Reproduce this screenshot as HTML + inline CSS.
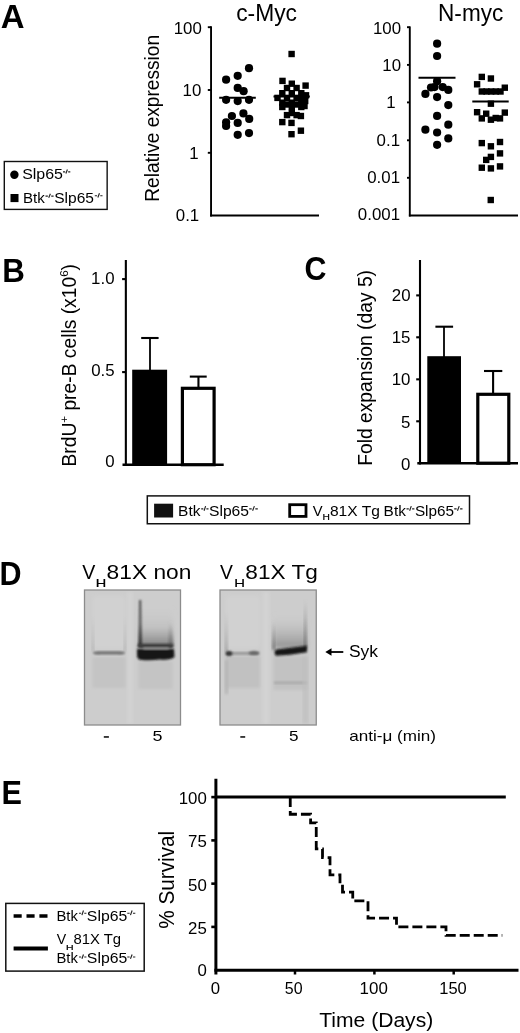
<!DOCTYPE html>
<html><head><meta charset="utf-8"><style>
html,body{margin:0;padding:0;background:#fff;width:520px;height:1033px;overflow:hidden}
svg{display:block;will-change:transform;font-family:"Liberation Sans", sans-serif;}
</style></head><body>
<svg width="520" height="1033" viewBox="0 0 520 1033" font-family='"Liberation Sans", sans-serif' fill="#000">
<text x="0.78" y="27.70" font-size="32.56" font-weight="bold" textLength="23.79" lengthAdjust="spacingAndGlyphs" >A</text>
<text x="2.20" y="282.00" font-size="32.99" font-weight="bold" textLength="22.61" lengthAdjust="spacingAndGlyphs" >B</text>
<text x="304.55" y="279.77" font-size="33.19" font-weight="bold" textLength="21.97" lengthAdjust="spacingAndGlyphs" >C</text>
<text x="-0.44" y="584.65" font-size="32.92" font-weight="bold" textLength="22.03" lengthAdjust="spacingAndGlyphs" >D</text>
<text x="1.55" y="803.60" font-size="32.99" font-weight="bold" textLength="20.45" lengthAdjust="spacingAndGlyphs" >E</text>
<text x="236.14" y="21.20" font-size="23.11" font-weight="normal" textLength="60.85" lengthAdjust="spacingAndGlyphs" >c-Myc</text>
<text x="438.05" y="21.30" font-size="23.26" font-weight="normal" textLength="65.24" lengthAdjust="spacingAndGlyphs" >N-myc</text>
<line x1="211.05" y1="26.2" x2="211.05" y2="216.5" stroke="#000" stroke-width="1.9" />
<line x1="210.1" y1="215.5" x2="319" y2="215.5" stroke="#000" stroke-width="2" />
<line x1="207.8" y1="27.2" x2="211.05" y2="27.2" stroke="#000" stroke-width="1.9" />
<line x1="207.8" y1="90.0" x2="211.05" y2="90.0" stroke="#000" stroke-width="1.9" />
<line x1="207.8" y1="152.8" x2="211.05" y2="152.8" stroke="#000" stroke-width="1.9" />
<text x="173.75" y="34.02" font-size="16.2" textLength="28.11" lengthAdjust="spacingAndGlyphs">100</text>
<text x="182.62" y="96.32" font-size="16.2" textLength="18.74" lengthAdjust="spacingAndGlyphs">10</text>
<text x="189.26" y="158.67" font-size="16.2" textLength="9.37" lengthAdjust="spacingAndGlyphs">1</text>
<text x="175.81" y="220.92" font-size="16.2" textLength="23.42" lengthAdjust="spacingAndGlyphs">0.1</text>
<line x1="409.8" y1="26.4" x2="409.8" y2="216.5" stroke="#000" stroke-width="1.9" />
<line x1="408.9" y1="215.5" x2="518" y2="215.5" stroke="#000" stroke-width="2" />
<line x1="407.0" y1="27.2" x2="409.8" y2="27.2" stroke="#000" stroke-width="1.9" />
<line x1="407.0" y1="64.9" x2="409.8" y2="64.9" stroke="#000" stroke-width="1.9" />
<line x1="407.0" y1="102.4" x2="409.8" y2="102.4" stroke="#000" stroke-width="1.9" />
<line x1="407.0" y1="140.3" x2="409.8" y2="140.3" stroke="#000" stroke-width="1.9" />
<line x1="407.0" y1="177.8" x2="409.8" y2="177.8" stroke="#000" stroke-width="1.9" />
<text x="372.95" y="34.22" font-size="16.2" textLength="28.11" lengthAdjust="spacingAndGlyphs">100</text>
<text x="382.32" y="71.32" font-size="16.2" textLength="18.74" lengthAdjust="spacingAndGlyphs">10</text>
<text x="386.26" y="108.42" font-size="16.2" textLength="9.37" lengthAdjust="spacingAndGlyphs">1</text>
<text x="376.61" y="145.97" font-size="16.2" textLength="23.42" lengthAdjust="spacingAndGlyphs">0.1</text>
<text x="367.24" y="183.02" font-size="16.2" textLength="32.79" lengthAdjust="spacingAndGlyphs">0.01</text>
<text x="357.87" y="220.07" font-size="16.2" textLength="42.16" lengthAdjust="spacingAndGlyphs">0.001</text>
<text x="-1.57" y="0" font-size="20.64" textLength="166.92" lengthAdjust="spacingAndGlyphs" transform="translate(158.50,200.20) rotate(-90)">Relative expression</text>
<circle cx="249.0" cy="68.2" r="4.1" fill="#000"/>
<circle cx="237.7" cy="75.8" r="4.1" fill="#000"/>
<circle cx="226.1" cy="79.7" r="4.1" fill="#000"/>
<circle cx="237.7" cy="87.9" r="4.1" fill="#000"/>
<circle cx="243.6" cy="91.2" r="4.1" fill="#000"/>
<circle cx="226.1" cy="99.8" r="4.1" fill="#000"/>
<circle cx="237.7" cy="101.1" r="4.1" fill="#000"/>
<circle cx="249.0" cy="99.8" r="4.1" fill="#000"/>
<circle cx="231.9" cy="116.0" r="4.1" fill="#000"/>
<circle cx="243.4" cy="113.4" r="4.1" fill="#000"/>
<circle cx="249.2" cy="118.9" r="4.1" fill="#000"/>
<circle cx="226.1" cy="122.3" r="4.1" fill="#000"/>
<circle cx="226.1" cy="126.0" r="4.1" fill="#000"/>
<circle cx="237.7" cy="122.9" r="4.1" fill="#000"/>
<circle cx="237.7" cy="134.8" r="4.1" fill="#000"/>
<circle cx="249.0" cy="133.1" r="4.1" fill="#000"/>
<rect x="288.4" y="50.8" width="6.4" height="6.4" fill="#000" stroke="none" stroke-width="0" />
<rect x="279.3" y="77.7" width="6.4" height="6.4" fill="#000" stroke="none" stroke-width="0" />
<rect x="288.6" y="80.5" width="6.4" height="6.4" fill="#000" stroke="none" stroke-width="0" />
<rect x="302.4" y="82.4" width="6.4" height="6.4" fill="#000" stroke="none" stroke-width="0" />
<rect x="283.8" y="84.8" width="6.4" height="6.4" fill="#000" stroke="none" stroke-width="0" />
<rect x="293.4" y="84.8" width="6.4" height="6.4" fill="#000" stroke="none" stroke-width="0" />
<rect x="279.1" y="90.0" width="6.4" height="6.4" fill="#000" stroke="none" stroke-width="0" />
<rect x="288.6" y="90.0" width="6.4" height="6.4" fill="#000" stroke="none" stroke-width="0" />
<rect x="298.1" y="90.0" width="6.4" height="6.4" fill="#000" stroke="none" stroke-width="0" />
<rect x="302.8" y="92.1" width="6.4" height="6.4" fill="#000" stroke="none" stroke-width="0" />
<rect x="274.3" y="94.7" width="6.4" height="6.4" fill="#000" stroke="none" stroke-width="0" />
<rect x="283.8" y="94.7" width="6.4" height="6.4" fill="#000" stroke="none" stroke-width="0" />
<rect x="293.4" y="94.7" width="6.4" height="6.4" fill="#000" stroke="none" stroke-width="0" />
<rect x="279.1" y="99.5" width="6.4" height="6.4" fill="#000" stroke="none" stroke-width="0" />
<rect x="288.6" y="99.5" width="6.4" height="6.4" fill="#000" stroke="none" stroke-width="0" />
<rect x="298.1" y="99.5" width="6.4" height="6.4" fill="#000" stroke="none" stroke-width="0" />
<rect x="279.1" y="103.8" width="6.4" height="6.4" fill="#000" stroke="none" stroke-width="0" />
<rect x="288.6" y="103.8" width="6.4" height="6.4" fill="#000" stroke="none" stroke-width="0" />
<rect x="298.1" y="103.8" width="6.4" height="6.4" fill="#000" stroke="none" stroke-width="0" />
<rect x="283.8" y="111.9" width="6.4" height="6.4" fill="#000" stroke="none" stroke-width="0" />
<rect x="288.6" y="109.8" width="6.4" height="6.4" fill="#000" stroke="none" stroke-width="0" />
<rect x="293.4" y="111.9" width="6.4" height="6.4" fill="#000" stroke="none" stroke-width="0" />
<rect x="297.7" y="112.8" width="6.4" height="6.4" fill="#000" stroke="none" stroke-width="0" />
<rect x="279.1" y="118.9" width="6.4" height="6.4" fill="#000" stroke="none" stroke-width="0" />
<rect x="288.3" y="119.7" width="6.4" height="6.4" fill="#000" stroke="none" stroke-width="0" />
<rect x="297.7" y="127.5" width="6.4" height="6.4" fill="#000" stroke="none" stroke-width="0" />
<rect x="288.3" y="131.0" width="6.4" height="6.4" fill="#000" stroke="none" stroke-width="0" />
<rect x="283.8" y="101.3" width="6.4" height="6.4" fill="#000" stroke="none" stroke-width="0" />
<rect x="293.4" y="101.3" width="6.4" height="6.4" fill="#000" stroke="none" stroke-width="0" />
<rect x="302.0" y="97.8" width="6.4" height="6.4" fill="#000" stroke="none" stroke-width="0" />
<rect x="301.3" y="102.8" width="6.4" height="6.4" fill="#000" stroke="none" stroke-width="0" />
<rect x="298.1" y="94.7" width="6.4" height="6.4" fill="#000" stroke="none" stroke-width="0" />
<line x1="219.2" y1="97.8" x2="255.8" y2="97.8" stroke="#000" stroke-width="2" />
<line x1="273.5" y1="96.4" x2="309.8" y2="96.4" stroke="#000" stroke-width="2" />
<circle cx="437.1" cy="43.65" r="4.1" fill="#000"/>
<circle cx="437.1" cy="56.0" r="4.1" fill="#000"/>
<circle cx="437.1" cy="81.2" r="4.1" fill="#000"/>
<circle cx="431.0" cy="87.5" r="4.1" fill="#000"/>
<circle cx="434.5" cy="87.1" r="4.1" fill="#000"/>
<circle cx="442.7" cy="87.1" r="4.1" fill="#000"/>
<circle cx="448.3" cy="89.9" r="4.1" fill="#000"/>
<circle cx="425.4" cy="93.9" r="4.1" fill="#000"/>
<circle cx="437.1" cy="97.1" r="4.1" fill="#000"/>
<circle cx="448.3" cy="105.1" r="4.1" fill="#000"/>
<circle cx="437.1" cy="115.9" r="4.1" fill="#000"/>
<circle cx="448.3" cy="124.7" r="4.1" fill="#000"/>
<circle cx="425.4" cy="129.7" r="4.1" fill="#000"/>
<circle cx="437.1" cy="132.5" r="4.1" fill="#000"/>
<circle cx="448.3" cy="138.4" r="4.1" fill="#000"/>
<circle cx="437.1" cy="144.8" r="4.1" fill="#000"/>
<rect x="478.6" y="73.7" width="6.4" height="6.4" fill="#000" stroke="none" stroke-width="0" />
<rect x="487.7" y="75.3" width="6.4" height="6.4" fill="#000" stroke="none" stroke-width="0" />
<rect x="473.9" y="81.1" width="6.4" height="6.4" fill="#000" stroke="none" stroke-width="0" />
<rect x="501.6" y="84.5" width="6.4" height="6.4" fill="#000" stroke="none" stroke-width="0" />
<rect x="478.6" y="88.3" width="6.4" height="6.4" fill="#000" stroke="none" stroke-width="0" />
<rect x="483.3" y="88.3" width="6.4" height="6.4" fill="#000" stroke="none" stroke-width="0" />
<rect x="488.0" y="88.3" width="6.4" height="6.4" fill="#000" stroke="none" stroke-width="0" />
<rect x="492.6" y="88.3" width="6.4" height="6.4" fill="#000" stroke="none" stroke-width="0" />
<rect x="497.3" y="88.3" width="6.4" height="6.4" fill="#000" stroke="none" stroke-width="0" />
<rect x="487.7" y="100.5" width="6.4" height="6.4" fill="#000" stroke="none" stroke-width="0" />
<rect x="473.9" y="109.0" width="6.4" height="6.4" fill="#000" stroke="none" stroke-width="0" />
<rect x="483.0" y="110.5" width="6.4" height="6.4" fill="#000" stroke="none" stroke-width="0" />
<rect x="501.6" y="109.4" width="6.4" height="6.4" fill="#000" stroke="none" stroke-width="0" />
<rect x="478.6" y="115.2" width="6.4" height="6.4" fill="#000" stroke="none" stroke-width="0" />
<rect x="487.7" y="116.5" width="6.4" height="6.4" fill="#000" stroke="none" stroke-width="0" />
<rect x="492.5" y="114.8" width="6.4" height="6.4" fill="#000" stroke="none" stroke-width="0" />
<rect x="496.8" y="115.2" width="6.4" height="6.4" fill="#000" stroke="none" stroke-width="0" />
<rect x="478.6" y="139.9" width="6.4" height="6.4" fill="#000" stroke="none" stroke-width="0" />
<rect x="487.7" y="143.1" width="6.4" height="6.4" fill="#000" stroke="none" stroke-width="0" />
<rect x="496.8" y="138.8" width="6.4" height="6.4" fill="#000" stroke="none" stroke-width="0" />
<rect x="496.8" y="150.2" width="6.4" height="6.4" fill="#000" stroke="none" stroke-width="0" />
<rect x="487.7" y="153.7" width="6.4" height="6.4" fill="#000" stroke="none" stroke-width="0" />
<rect x="483.0" y="156.7" width="6.4" height="6.4" fill="#000" stroke="none" stroke-width="0" />
<rect x="478.6" y="164.5" width="6.4" height="6.4" fill="#000" stroke="none" stroke-width="0" />
<rect x="487.7" y="165.2" width="6.4" height="6.4" fill="#000" stroke="none" stroke-width="0" />
<rect x="496.8" y="163.2" width="6.4" height="6.4" fill="#000" stroke="none" stroke-width="0" />
<rect x="487.55" y="196.8" width="6.4" height="6.4" fill="#000" stroke="none" stroke-width="0" />
<line x1="418.5" y1="77.8" x2="455.5" y2="77.8" stroke="#000" stroke-width="2" />
<line x1="472.3" y1="101.6" x2="508.7" y2="101.6" stroke="#000" stroke-width="2" />
<rect x="4.3" y="161.5" width="102.85" height="47.9" fill="#fff" stroke="#111" stroke-width="1.4" />
<circle cx="14.4" cy="174.8" r="4.2" fill="#000"/>
<rect x="10.5" y="194" width="8" height="8.1" fill="#000" stroke="none" stroke-width="0" />
<text x="22.17" y="178.83" font-size="14.26" font-weight="normal" textLength="40.81" lengthAdjust="spacingAndGlyphs" >Slp65</text>
<path d="M63.00,171.87 H65.11 M67.42,169.50 L65.88,173.50 M68.19,171.87 H70.30" stroke="#222" stroke-width="1.15" fill="none"/>
<text x="23.06" y="202.80" font-size="14.21" font-weight="normal" textLength="21.82" lengthAdjust="spacingAndGlyphs" >Btk</text>
<path d="M45.50,196.11 H47.85 M50.40,193.80 L48.70,197.70 M51.25,196.11 H53.60" stroke="#222" stroke-width="1.15" fill="none"/>
<text x="54.18" y="202.80" font-size="14.21" font-weight="normal" textLength="39.78" lengthAdjust="spacingAndGlyphs" >Slp65</text>
<path d="M94.80,195.74 H97.03 M99.46,193.20 L97.84,197.50 M100.27,195.74 H102.50" stroke="#222" stroke-width="1.15" fill="none"/>
<line x1="125.85" y1="260" x2="125.85" y2="466" stroke="#000" stroke-width="2.1" />
<line x1="122.5" y1="464.7" x2="223.7" y2="464.7" stroke="#000" stroke-width="2.6" />
<line x1="122.1" y1="279.1" x2="125.85" y2="279.1" stroke="#000" stroke-width="2.1" />
<line x1="122.1" y1="372.1" x2="125.85" y2="372.1" stroke="#000" stroke-width="2.1" />
<text x="91.14" y="284.02" font-size="16.2" textLength="23.42" lengthAdjust="spacingAndGlyphs">1.0</text>
<text x="91.19" y="375.87" font-size="16.2" textLength="23.42" lengthAdjust="spacingAndGlyphs">0.5</text>
<text x="105.19" y="467.27" font-size="16.2" textLength="9.37" lengthAdjust="spacingAndGlyphs">0</text>
<rect x="132.2" y="369.7" width="34.9" height="95" fill="#000" stroke="none" stroke-width="0" />
<line x1="150" y1="338" x2="150" y2="370" stroke="#000" stroke-width="1.8" />
<line x1="141.2" y1="338" x2="158.6" y2="338" stroke="#000" stroke-width="2.1" />
<rect x="182.4" y="388.3" width="31.7" height="76.4" fill="#fff" stroke="#000" stroke-width="3.2" />
<line x1="198.45" y1="376.6" x2="198.45" y2="388" stroke="#000" stroke-width="2.1" />
<line x1="189.8" y1="376.6" x2="206.7" y2="376.6" stroke="#000" stroke-width="2.1" />
<text x="-1.58" y="0" font-size="19.62" textLength="202.57" lengthAdjust="spacingAndGlyphs" transform="translate(76.20,465.00) rotate(-90)"><tspan font-size="19.62" dy="0.00">BrdU</tspan><tspan font-size="11.77" dy="-8.24">+</tspan><tspan font-size="19.62" dy="8.24"> pre-B cells (x10</tspan><tspan font-size="11.77" dy="-8.24">6</tspan><tspan font-size="19.62" dy="8.24">)</tspan></text>
<line x1="420.0" y1="260" x2="420.0" y2="464.5" stroke="#000" stroke-width="2.1" />
<line x1="417.3" y1="463.2" x2="518" y2="463.2" stroke="#000" stroke-width="2.6" />
<line x1="416.2" y1="295.4" x2="420.0" y2="295.4" stroke="#000" stroke-width="2.1" />
<line x1="416.2" y1="337.3" x2="420.0" y2="337.3" stroke="#000" stroke-width="2.1" />
<line x1="416.2" y1="379.35" x2="420.0" y2="379.35" stroke="#000" stroke-width="2.1" />
<line x1="416.2" y1="421.3" x2="420.0" y2="421.3" stroke="#000" stroke-width="2.1" />
<text x="391.82" y="301.22" font-size="16.2" textLength="18.74" lengthAdjust="spacingAndGlyphs">20</text>
<text x="391.67" y="343.22" font-size="16.2" textLength="18.74" lengthAdjust="spacingAndGlyphs">15</text>
<text x="391.72" y="385.42" font-size="16.2" textLength="18.74" lengthAdjust="spacingAndGlyphs">10</text>
<text x="401.14" y="427.72" font-size="16.2" textLength="9.37" lengthAdjust="spacingAndGlyphs">5</text>
<text x="401.09" y="469.97" font-size="16.2" textLength="9.37" lengthAdjust="spacingAndGlyphs">0</text>
<rect x="427.3" y="356.2" width="33.7" height="107" fill="#000" stroke="none" stroke-width="0" />
<line x1="444" y1="326.7" x2="444" y2="357" stroke="#000" stroke-width="1.8" />
<line x1="435.4" y1="326.7" x2="453.1" y2="326.7" stroke="#000" stroke-width="2.1" />
<rect x="477.8" y="394.3" width="31" height="68.9" fill="#fff" stroke="#000" stroke-width="3.2" />
<line x1="493.1" y1="371" x2="493.1" y2="393" stroke="#000" stroke-width="2.1" />
<line x1="484" y1="371" x2="502.3" y2="371" stroke="#000" stroke-width="2.1" />
<text x="-1.58" y="0" font-size="19.77" textLength="195.78" lengthAdjust="spacingAndGlyphs" transform="translate(371.50,464.20) rotate(-90)">Fold expansion (day 5)</text>
<rect x="147.3" y="495.9" width="322.2" height="27.85" fill="#fff" stroke="#111" stroke-width="1.5" />
<rect x="154.1" y="503.7" width="19" height="13.8" fill="#111" stroke="none" stroke-width="0" />
<text x="178.13" y="516.10" font-size="14.76" font-weight="normal" textLength="22.35" lengthAdjust="spacingAndGlyphs" >Btk</text>
<path d="M201.20,508.82 H203.31 M205.62,506.10 L204.08,510.70 M206.39,508.82 H208.50" stroke="#222" stroke-width="1.15" fill="none"/>
<text x="208.98" y="516.36" font-size="15.11" font-weight="normal" textLength="40.09" lengthAdjust="spacingAndGlyphs" >Slp65</text>
<path d="M249.20,508.82 H251.70 M254.40,506.10 L252.60,510.70 M255.30,508.82 H257.80" stroke="#222" stroke-width="1.15" fill="none"/>
<rect x="289.7" y="504.7" width="16.3" height="11.7" fill="#fff" stroke="#000" stroke-width="2.8" />
<text x="312.83" y="516.10" font-size="15.55" font-weight="normal" textLength="9.85" lengthAdjust="spacingAndGlyphs" >V</text>
<text x="322.46" y="520.40" font-size="8.58" font-weight="normal" textLength="7.36" lengthAdjust="spacingAndGlyphs" stroke="#000" stroke-width="0.2">H</text>
<text x="329.93" y="516.19" font-size="15.45" font-weight="normal" textLength="49.87" lengthAdjust="spacingAndGlyphs" >81X Tg</text>
<text x="383.64" y="516.10" font-size="14.76" font-weight="normal" textLength="22.24" lengthAdjust="spacingAndGlyphs" >Btk</text>
<path d="M406.50,508.82 H408.79 M411.28,506.10 L409.62,510.70 M412.11,508.82 H414.40" stroke="#222" stroke-width="1.15" fill="none"/>
<text x="414.90" y="516.36" font-size="15.11" font-weight="normal" textLength="39.16" lengthAdjust="spacingAndGlyphs" >Slp65</text>
<path d="M454.20,508.82 H456.61 M459.22,506.10 L457.48,510.70 M460.09,508.82 H462.50" stroke="#222" stroke-width="1.15" fill="none"/>
<text x="82.20" y="578.70" font-size="19.91" font-weight="normal" textLength="13.10" lengthAdjust="spacingAndGlyphs" >V</text>
<text x="95.81" y="586.70" font-size="10.76" font-weight="normal" textLength="10.46" lengthAdjust="spacingAndGlyphs" stroke="#000" stroke-width="0.2">H</text>
<text x="106.62" y="578.70" font-size="19.63" font-weight="normal" textLength="84.77" lengthAdjust="spacingAndGlyphs" >81X non</text>
<text x="220.10" y="578.70" font-size="19.91" font-weight="normal" textLength="12.89" lengthAdjust="spacingAndGlyphs" >V</text>
<text x="234.18" y="586.70" font-size="10.76" font-weight="normal" textLength="10.72" lengthAdjust="spacingAndGlyphs" stroke="#000" stroke-width="0.2">H</text>
<text x="245.33" y="578.71" font-size="19.65" font-weight="normal" textLength="72.52" lengthAdjust="spacingAndGlyphs" >81X Tg</text>
<defs>
<filter id="b1" x="-30%" y="-30%" width="160%" height="160%"><feGaussianBlur stdDeviation="1.1"/></filter>
<filter id="b15" x="-30%" y="-30%" width="160%" height="160%"><feGaussianBlur stdDeviation="1.6"/></filter>
<filter id="b2" x="-30%" y="-30%" width="160%" height="160%"><feGaussianBlur stdDeviation="2.2"/></filter>
<filter id="b3" x="-30%" y="-30%" width="160%" height="160%"><feGaussianBlur stdDeviation="3.5"/></filter>
<linearGradient id="g2u" x1="0" y1="0" x2="0" y2="1"><stop offset="0" stop-color="#c8c8c8" stop-opacity="0"/><stop offset="0.5" stop-color="#bdbdbd" stop-opacity="0.8"/><stop offset="1" stop-color="#7a7a7a"/></linearGradient>
<linearGradient id="gst" x1="0" y1="0" x2="0" y2="1"><stop offset="0" stop-color="#555"/><stop offset="0.5" stop-color="#666"/><stop offset="1" stop-color="#333"/></linearGradient>
<linearGradient id="gst2" x1="0" y1="0" x2="0" y2="1"><stop offset="0" stop-color="#888" stop-opacity="0"/><stop offset="1" stop-color="#666"/></linearGradient>
<linearGradient id="g4u" x1="0" y1="0" x2="0" y2="1"><stop offset="0" stop-color="#c8c8c8" stop-opacity="0"/><stop offset="1" stop-color="#909090"/></linearGradient>
<clipPath id="c1"><rect x="85" y="590.5" width="95" height="134"/></clipPath>
<clipPath id="c2"><rect x="220.5" y="590.5" width="95.25" height="134"/></clipPath>
</defs>
<rect x="84.5" y="590" width="96" height="135" fill="#cdcdcd"/>
<g clip-path="url(#c1)">
<rect x="93" y="596" width="32" height="52" fill="#d1d1d1" filter="url(#b2)"/>
<rect x="127.5" y="592" width="5" height="132" fill="#d4d4d4" filter="url(#b2)"/>
<rect x="92.5" y="657" width="33" height="31" fill="#c4c4c4" filter="url(#b15)"/>
<rect x="138.5" y="661" width="34" height="28" fill="#c4c4c4" filter="url(#b15)"/>
<rect x="92" y="615" width="2" height="36" fill="url(#gst2)" opacity="0.3" filter="url(#b15)"/>
<rect x="124" y="615" width="2" height="36" fill="url(#gst2)" opacity="0.3" filter="url(#b15)"/>
<rect x="139" y="608" width="34" height="40" fill="url(#g2u)" filter="url(#b2)"/>
<path d="M139.0,600 L141.2,600 L142.2,646 L138.4,646 Z" fill="url(#gst)" filter="url(#b1)"/>
<path d="M169.5,622 L171.5,622 L173,646 L168.5,646 Z" fill="url(#gst2)" filter="url(#b15)"/>
<path d="M92.5,652.8 Q94,650.8 100,651.2 L118,651.2 Q124,650.8 125.5,652.8 Q124,655 118,654.6 L100,654.6 Q94,655 92.5,652.8 Z" fill="#707070" filter="url(#b1)"/>
<rect x="137.5" y="643.8" width="36" height="4.2" rx="2" fill="#3a3a3a" filter="url(#b1)"/>
<path d="M137,649 L174,649 L174.5,657 Q170,660.5 160,659.5 Q150,661 140,659.8 Q137,659 137,655 Z" fill="#141414" filter="url(#b1)"/>
<rect x="143" y="647.2" width="26" height="2.2" rx="1" fill="#8c8c8c" filter="url(#b1)"/>
</g>
<rect x="84.5" y="590" width="96" height="135" fill="none" stroke="#8c8c8c" stroke-width="1.3"/>
<rect x="220" y="590" width="96.25" height="135" fill="#cdcdcd"/>
<g clip-path="url(#c2)">
<rect x="226" y="596" width="34" height="52" fill="#d1d1d1" filter="url(#b2)"/>
<rect x="263" y="592" width="6" height="132" fill="#d4d4d4" filter="url(#b2)"/>
<rect x="225.5" y="656" width="34.5" height="32" fill="#c1c1c1" filter="url(#b15)"/>
<rect x="225" y="612" width="2.4" height="40" fill="url(#gst2)" opacity="0.5" filter="url(#b15)"/>
<rect x="225" y="660" width="3" height="34" fill="#b4b4b4" filter="url(#b15)"/>
<rect x="273.5" y="656" width="33.5" height="34" fill="#c2c2c2" filter="url(#b15)"/>
<rect x="274" y="681.5" width="33" height="2.6" fill="#aaaaaa" filter="url(#b1)"/>
<rect x="273.5" y="614" width="33.5" height="34" fill="url(#g4u)" filter="url(#b2)"/>
<rect x="272.5" y="622" width="2.5" height="28" fill="url(#gst2)" filter="url(#b15)"/>
<rect x="304" y="600" width="2.5" height="48" fill="url(#gst2)" filter="url(#b15)"/>
<rect x="303.5" y="656" width="4" height="68" fill="#bdbdbd" filter="url(#b2)"/>
<rect x="226" y="652" width="33" height="2.8" rx="1.4" fill="#959595" filter="url(#b1)"/>
<ellipse cx="229" cy="653.4" rx="3.4" ry="2.5" fill="#383838" filter="url(#b1)"/>
<ellipse cx="254" cy="653.1" rx="5.5" ry="2.0" fill="#666" filter="url(#b1)"/>
<path d="M276,649.5 Q273,652.5 276,655.8 L290,654.8 L307,652.3 L307,645.8 L290,647.8 Z" fill="#121212" filter="url(#b1)"/>
</g>
<rect x="220" y="590" width="96.25" height="135" fill="none" stroke="#8c8c8c" stroke-width="1.3"/>
<rect x="103.8" y="736.1" width="5.1" height="1.7" fill="#222" stroke="none" stroke-width="0" />
<text x="152.58" y="741.35" font-size="15.19" font-weight="normal" textLength="9.97" lengthAdjust="spacingAndGlyphs" >5</text>
<rect x="240.3" y="736.1" width="4.9" height="1.7" fill="#222" stroke="none" stroke-width="0" />
<text x="289.12" y="741.35" font-size="15.19" font-weight="normal" textLength="9.50" lengthAdjust="spacingAndGlyphs" >5</text>
<line x1="329" y1="652" x2="343.3" y2="652" stroke="#000" stroke-width="1.8" />
<path d="M325.3,652 L331.5,648.3 L331.5,655.7 Z" fill="#000"/>
<text x="348.90" y="656.71" font-size="16.29" font-weight="normal" textLength="29.09" lengthAdjust="spacingAndGlyphs" >Syk</text>
<text x="349.18" y="741.17" font-size="14.16" font-weight="normal" textLength="86.77" lengthAdjust="spacingAndGlyphs" >anti-μ (min)</text>
<line x1="215.9" y1="778.75" x2="215.9" y2="974.5" stroke="#000" stroke-width="3" />
<line x1="214.4" y1="970.2" x2="518.5" y2="970.2" stroke="#000" stroke-width="2.9" />
<line x1="211.3" y1="797.1" x2="215.9" y2="797.1" stroke="#000" stroke-width="2.6" />
<line x1="211.3" y1="840.4" x2="215.9" y2="840.4" stroke="#000" stroke-width="2.6" />
<line x1="211.3" y1="883.65" x2="215.9" y2="883.65" stroke="#000" stroke-width="2.6" />
<line x1="211.3" y1="926.9" x2="215.9" y2="926.9" stroke="#000" stroke-width="2.6" />
<text x="178.70" y="804.22" font-size="16.2" textLength="28.11" lengthAdjust="spacingAndGlyphs">100</text>
<text x="188.12" y="847.47" font-size="16.2" textLength="18.74" lengthAdjust="spacingAndGlyphs">75</text>
<text x="188.07" y="891.02" font-size="16.2" textLength="18.74" lengthAdjust="spacingAndGlyphs">50</text>
<text x="188.12" y="934.02" font-size="16.2" textLength="18.74" lengthAdjust="spacingAndGlyphs">25</text>
<text x="197.44" y="976.47" font-size="16.2" textLength="9.37" lengthAdjust="spacingAndGlyphs">0</text>
<line x1="295" y1="970" x2="295" y2="974.5" stroke="#000" stroke-width="2.5" />
<line x1="374.4" y1="970" x2="374.4" y2="974.5" stroke="#000" stroke-width="2.5" />
<line x1="453.7" y1="970" x2="453.7" y2="974.5" stroke="#000" stroke-width="2.5" />
<text x="210.65" y="993.54" font-size="15.96" font-weight="normal" textLength="9.31" lengthAdjust="spacingAndGlyphs" >0</text>
<text x="284.86" y="993.64" font-size="15.96" font-weight="normal" textLength="17.77" lengthAdjust="spacingAndGlyphs" >50</text>
<text x="359.61" y="993.64" font-size="15.96" font-weight="normal" textLength="28.26" lengthAdjust="spacingAndGlyphs" >100</text>
<text x="439.25" y="993.64" font-size="15.96" font-weight="normal" textLength="27.50" lengthAdjust="spacingAndGlyphs" >150</text>
<text x="319.24" y="1027.47" font-size="20.92" font-weight="normal" textLength="113.98" lengthAdjust="spacingAndGlyphs" >Time (Days)</text>
<text x="-0.75" y="0" font-size="21.33" textLength="97.95" lengthAdjust="spacingAndGlyphs" transform="translate(174.09,928.00) rotate(-90)">% Survival</text>
<line x1="215.9" y1="797" x2="505.8" y2="797" stroke="#000" stroke-width="2.9" />
<path d="M290.25,796.94 V814.26 H310.6 V822.91 H316.25 V848.89 H322.5 V857.55 H330 V874.86 H340 V883.52 H342.5 V892.18 H352.75 V900.84 H368.0 V918.15 H396.5 V926.81 H446.0 V935.47 H502.3" fill="none" stroke="#000" stroke-width="2.8" stroke-dasharray="10 4"/>
<rect x="5.8" y="903.4" width="138.4" height="67.7" fill="#fff" stroke="#111" stroke-width="1.5" />
<line x1="13.6" y1="916" x2="47.9" y2="916" stroke="#000" stroke-width="3.6" stroke-dasharray="8.1 4.8"/>
<line x1="13.6" y1="948.5" x2="47.9" y2="948.5" stroke="#000" stroke-width="4" />
<text x="56.49" y="920.90" font-size="14.07" font-weight="normal" textLength="21.40" lengthAdjust="spacingAndGlyphs" >Btk</text>
<path d="M79.00,913.22 H81.14 M83.48,910.50 L81.92,915.10 M84.26,913.22 H86.40" stroke="#222" stroke-width="1.15" fill="none"/>
<text x="86.87" y="920.96" font-size="14.15" font-weight="normal" textLength="40.40" lengthAdjust="spacingAndGlyphs" >Slp65</text>
<path d="M127.30,913.22 H129.62 M132.14,910.50 L130.46,915.10 M132.98,913.22 H135.30" stroke="#222" stroke-width="1.15" fill="none"/>
<text x="56.83" y="944.20" font-size="14.83" font-weight="normal" textLength="9.44" lengthAdjust="spacingAndGlyphs" >V</text>
<text x="65.93" y="949.60" font-size="7.99" font-weight="normal" textLength="7.62" lengthAdjust="spacingAndGlyphs" stroke="#000" stroke-width="0.2">H</text>
<text x="73.56" y="944.16" font-size="14.13" font-weight="normal" textLength="47.59" lengthAdjust="spacingAndGlyphs" >81X Tg</text>
<text x="56.49" y="963.20" font-size="14.34" font-weight="normal" textLength="21.40" lengthAdjust="spacingAndGlyphs" >Btk</text>
<path d="M79.00,956.98 H81.14 M83.48,954.50 L81.92,958.70 M84.26,956.98 H86.40" stroke="#222" stroke-width="1.15" fill="none"/>
<text x="86.87" y="963.25" font-size="14.68" font-weight="normal" textLength="40.40" lengthAdjust="spacingAndGlyphs" >Slp65</text>
<path d="M127.30,956.98 H129.62 M132.14,954.50 L130.46,958.70 M132.98,956.98 H135.30" stroke="#222" stroke-width="1.15" fill="none"/>
</svg>
</body></html>
